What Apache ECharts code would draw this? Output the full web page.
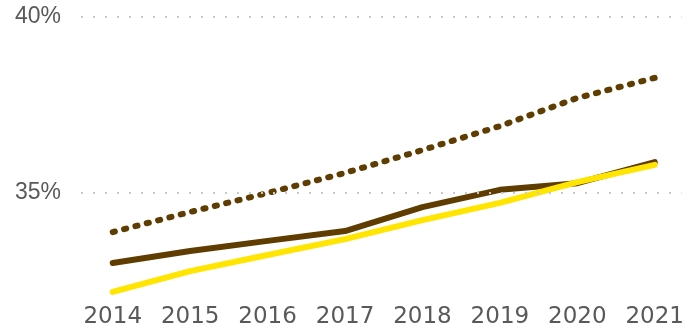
<!DOCTYPE html>
<html>
<head>
<meta charset="utf-8">
<script src="https://cdn.jsdelivr.net/npm/echarts@6/dist/echarts.min.js"></script>
<style>html,body{margin:0;padding:0;background:#fff}#c{width:687px;height:329px}</style>
</head>
<body>
<div id="c"></div>
<script>
const years = [2014, 2015, 2016, 2017, 2018, 2019, 2020, 2021];
const dottedSeries = [33.89, 34.46, 35.0, 35.57, 36.22, 36.9, 37.7, 38.27];
const brownSeries = [33.01, 33.35, 33.64, 33.92, 34.6, 35.09, 35.28, 35.88];
const yellowSeries = [32.19, 32.78, 33.24, 33.69, 34.23, 34.72, 35.31, 35.8];
const yTicks = [35, 40];

const pairs = arr => years.map((y, i) => [y, arr[i]]);
const textColor = '#595959';
const font = 'DejaVu Sans, Verdana, sans-serif';

const chart = echarts.init(document.getElementById('c'), null, {renderer: 'canvas'});
chart.setOption({
  animation: false,
  grid: {left: 81, right: 0, top: 17, bottom: 30.4},
  xAxis: {
    type: 'value', min: 2013.59, max: 2021.345,
    axisLine: {show: false}, axisTick: {show: false}, splitLine: {show: false},
    axisLabel: {customValues: years, color: textColor, fontSize: 23, fontFamily: font, margin: 7,
      formatter: v => String(Math.round(v))}
  },
  yAxis: {
    type: 'value', min: 32, max: 40,
    axisLine: {show: false}, axisTick: {show: false}, splitLine: {show: false},
    axisLabel: {customValues: yTicks, color: textColor, fontSize: 23, fontFamily: 'Liberation Sans, Arial, sans-serif', margin: 20,
      formatter: v => v + '%'}
  },
  series: [
    {
      type: 'line', data: pairs(dottedSeries), showSymbol: false, silent: true,
      lineStyle: {color: '#5f3c00', width: 6, type: [2.2, 9.5], cap: 'round'},
      markLine: {
        silent: true, symbol: 'none', label: {show: false},
        lineStyle: {color: '#c8c8c8', width: 2, type: [2, 10]},
        data: yTicks.map(v => ({yAxis: v}))
      }
    },
    {
      type: 'line', data: pairs(brownSeries), showSymbol: false, silent: true,
      lineStyle: {color: '#5f3c00', width: 6, cap: 'round', join: 'round'}
    },
    {
      type: 'line', data: pairs(yellowSeries), showSymbol: false, silent: true,
      lineStyle: {color: '#ffe500', width: 6, cap: 'round', join: 'round'}
    }
  ]
});
</script>
</body>
</html>
